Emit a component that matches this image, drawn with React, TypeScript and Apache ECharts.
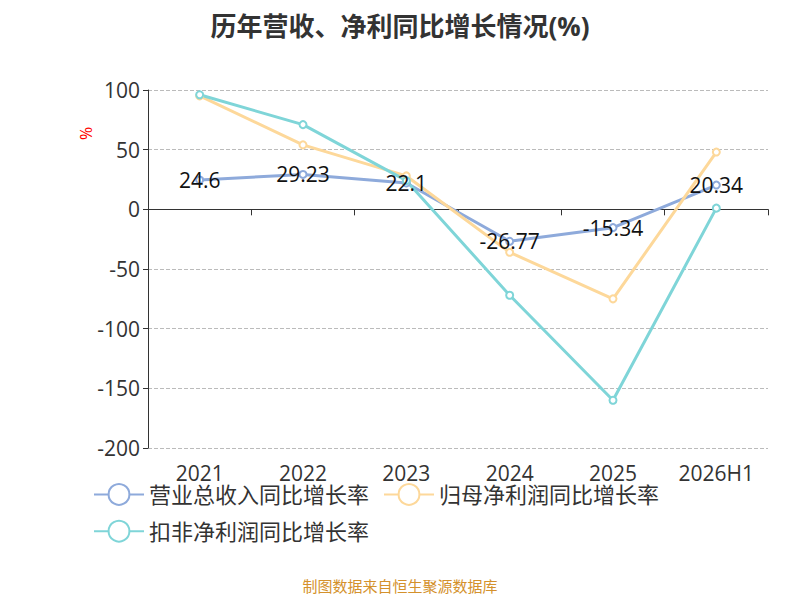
import React, { useEffect, useRef } from "react";
import * as echarts from "echarts";

const categories = ["2021", "2022", "2023", "2024", "2025", "2026H1"];
const revenue = [24.6, 29.23, 22.1, -26.77, -15.34, 20.34];
const netProfit = [95, 54, 28, -36, -75, 48];
const deductedProfit = [96, 71, 24, -72, -160, 1];

export default function App() {
  const ref = useRef<HTMLDivElement>(null);
  useEffect(() => {
    const chart = echarts.init(ref.current!, null, { renderer: "svg" });
    const font = "'Open Sans', 'Noto Sans CJK SC', sans-serif";
    chart.setOption({
      animation: false,
      textStyle: { fontFamily: font },
      title: {
        text: "历年营收、净利同比增长情况(%)",
        left: "center",
        top: 0,
        textStyle: { fontSize: 26, fontWeight: "bold", color: "#333", fontFamily: font },
      },
      graphic: [
        {
          type: "text",
          left: "center",
          top: 570,
          style: { text: "制图数据来自恒生聚源数据库", fill: "#d4912c", fontSize: 15, fontFamily: font },
        },
        {
          type: "text",
          x: 70,
          y: 132,
          rotation: Math.PI / 2,
          style: { text: "%", fill: "red", fontSize: 16, fontFamily: font },
        },
      ],
      legend: {
        left: 80,
        top: 470,
        width: 680,
        itemWidth: 50,
        itemHeight: 26,
        itemGap: 14,
        textStyle: { fontSize: 22, color: "#333" },
        data: ["营业总收入同比增长率", "归母净利润同比增长率", "扣非净利润同比增长率"],
      },
      grid: { left: 140, right: 24, top: 82, bottom: 152 },
      xAxis: [
        {
          type: "category",
          data: categories,
          axisLine: { onZero: true, lineStyle: { color: "#333" } },
          axisTick: { show: true, length: 6, lineStyle: { color: "#333" } },
          axisLabel: { show: false },
        },
        {
          type: "category",
          data: categories,
          position: "bottom",
          axisLine: { show: false },
          axisTick: { show: false },
          axisLabel: { fontSize: 21, color: "#333", margin: 14 },
        },
      ],
      yAxis: {
        type: "value",
        min: -200,
        max: 100,
        interval: 50,
        axisLine: { show: true, lineStyle: { color: "#333" } },
        axisTick: { show: true, lineStyle: { color: "#333" } },
        axisLabel: { fontSize: 21, color: "#333" },
        splitLine: { lineStyle: { type: "dashed", color: "#bbb" } },
      },
      series: [
        {
          name: "营业总收入同比增长率",
          type: "line",
          data: revenue,
          color: "#8eaadb",
          symbol: "emptyCircle",
          symbolSize: 7,
          lineStyle: { width: 3 },
          label: { show: true, fontSize: 21, color: "#111", position: "inside" },
        },
        {
          name: "归母净利润同比增长率",
          type: "line",
          data: netProfit,
          color: "#fdd89a",
          symbol: "emptyCircle",
          symbolSize: 7,
          lineStyle: { width: 3 },
        },
        {
          name: "扣非净利润同比增长率",
          type: "line",
          data: deductedProfit,
          color: "#7fd5d8",
          symbol: "emptyCircle",
          symbolSize: 7,
          lineStyle: { width: 3 },
        },
      ],
    });
    return () => chart.dispose();
  }, []);
  return <div ref={ref} style={{ width: 784, height: 592 }} />;
}
